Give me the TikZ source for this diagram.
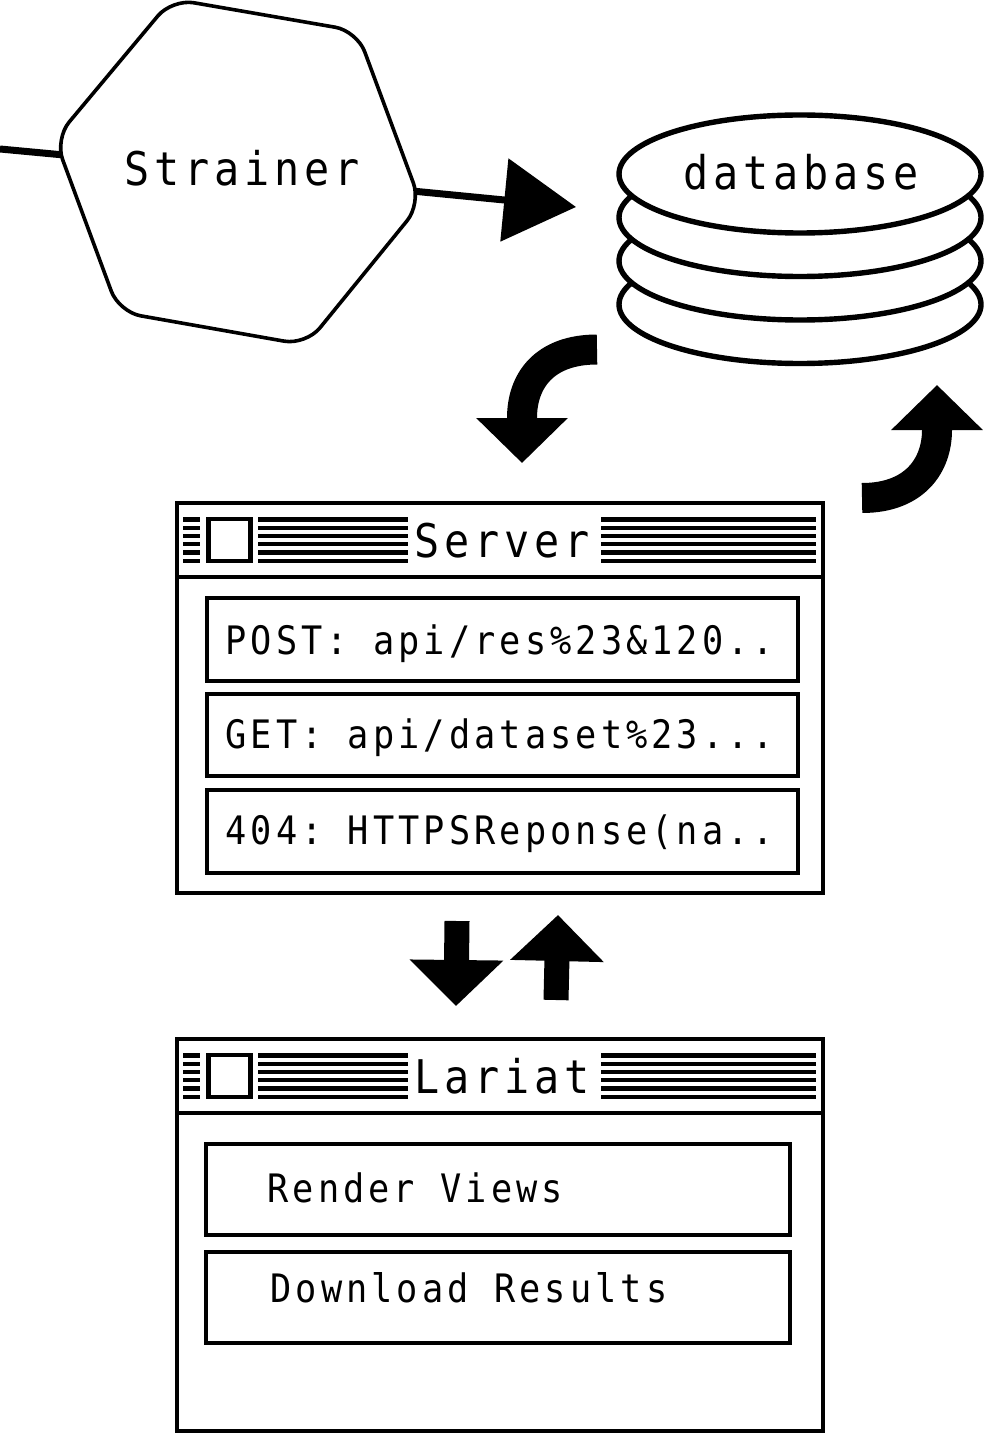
\documentclass[tikz,border=0pt]{standalone}
\usepackage{fontspec}
\usepackage{tikz}
\usetikzlibrary{arrows.meta}
\setmonofont[FakeStretch=0.9,LetterSpace=10.4]{DejaVu Sans Mono}
\tikzset{
  titletext/.style={anchor=base west, inner sep=0pt, font=\ttfamily\fontsize{23.2}{28}\selectfont},
  listtext/.style={anchor=base west, inner sep=0pt, font=\ttfamily\fontsize{19.6}{24}\selectfont},
  frameline/.style={line width=2pt},
  stripe/.style={line width=2.1pt},
  flow/.style={line width=15pt, -{Triangle[length=22.5pt,width=44.5pt,sep=0pt]}},
  swap/.style={line width=12.5pt, -{Triangle[length=23pt,width=45.5pt,sep=0pt]}}
}
\begin{document}
\begin{tikzpicture}[x=0.5pt,y=-0.5pt]
  \useasboundingbox (0,0) rectangle (984,1433);
  % strainer
  \coordinate (feed) at (0,149);
  \coordinate (strainerin) at (64,155);
  \coordinate (strainerout) at (412,191);
  \coordinate (dbin) at (576,207);
  \draw[line width=3.5pt] (feed) -- (strainerin);
  \draw[line width=3.5pt, -{Triangle[length=36pt,width=41pt,sep=0pt]}] (strainerout) -- (dbin);
  \draw[line width=1.8pt, fill=white, rounded corners=11pt]
    (172,-1) -- (357,31) -- (421,203.6) -- (306,345) -- (119,312) -- (55,139) -- cycle;
  \node (strainer) [titletext] at (124,186) {Strainer};
  % database
  \foreach \layery in {304.5,261,217.5,174} {
    \draw[line width=2.7pt, fill=white] (800,\layery) ellipse (181 and 59);
  }
  \node (database) [titletext] at (683,190) {database};
  % curved arrows
  \coordinate (dbout) at (597,349.5);
  \coordinate (serverin) at (522,463);
  \coordinate (serverout) at (862,498);
  \coordinate (dbback) at (937,385);
  \draw[flow] (dbout) .. controls (545,349.5) and (522,380) .. (522,418) -- (serverin);
  \draw[flow] (serverout) .. controls (915,498) and (937,465) .. (937,430) -- (dbback);
  % windows
  \foreach \winy/\winh/\wintitle in {503/390/Server,1039/392/Lariat} {
    \draw[frameline] (177,\winy) rectangle (823,\winy+\winh);
    \draw[frameline] (177,\winy+74) -- (823,\winy+74);
    \draw[line width=2.2pt] (208.5,\winy+16) rectangle (250.5,\winy+58);
    \foreach \stripey in {16.5,24.7,33,41.2,49.5,57.7} {
      \draw[stripe] (183,\winy+\stripey) -- (200,\winy+\stripey);
      \draw[stripe] (258,\winy+\stripey) -- (408,\winy+\stripey);
      \draw[stripe] (601,\winy+\stripey) -- (816,\winy+\stripey);
    }
    \node (\wintitle) [titletext] at (414,\winy+54) {\wintitle};
  }
  % server list
  \draw[frameline] (207,597.5) rectangle (798,680.5);
  \draw[frameline] (207,693.5) rectangle (798,776);
  \draw[frameline] (207,789.5) rectangle (798,873);
  \node (post) [listtext] at (225,654) {POST: api/res\%23\&120..};
  \node (get) [listtext] at (225,748) {GET: api/dataset\%23...};
  \node (notfound) [listtext] at (225,844) {404: HTTPSReponse(na..};
  % lariat list
  \draw[line width=1.8pt] (206,1144) rectangle (790,1235);
  \draw[line width=1.8pt] (206,1252) rectangle (790,1343);
  \node (render) [listtext] at (267,1202) {Render Views};
  \node (download) [listtext] at (270,1302) {Download Results};
  % server to lariat
  \coordinate (serverdown) at (457,921);
  \coordinate (lariatin) at (456,1006);
  \coordinate (lariatout) at (556,1000);
  \coordinate (serverup) at (558,915);
  \draw[swap] (serverdown) -- (lariatin);
  \draw[swap] (lariatout) -- (serverup);
\end{tikzpicture}
\end{document}
